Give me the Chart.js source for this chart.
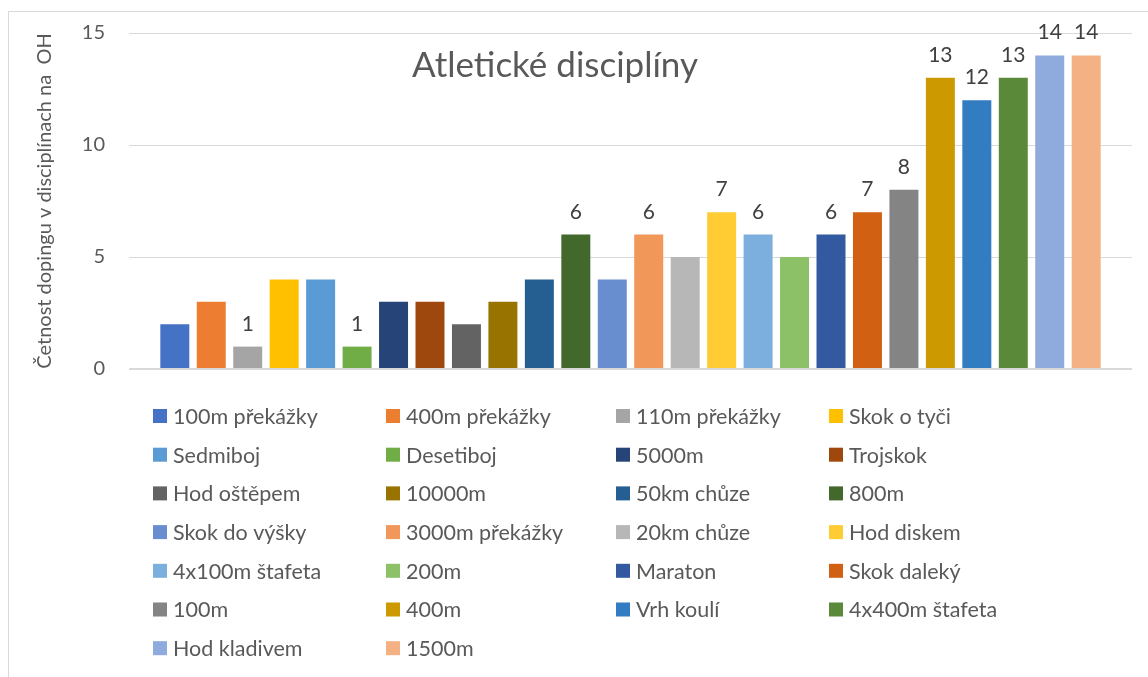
<!DOCTYPE html>
<html>
<head>
<meta charset="utf-8">
<title>Atletické disciplíny</title>
<script src="https://cdn.jsdelivr.net/npm/chart.js@4.4.1/dist/chart.umd.min.js"></script>
<style>
html, body { margin: 0; padding: 0; background: #fff; }
canvas { display: block; }
</style>
</head>
<body>
<canvas id="chart" width="1148" height="677"></canvas>
<script>
// Disciplines, in the order the bars are drawn (one series per discipline)
const disciplines = [
    '100m překážky', '400m překážky', '110m překážky', 'Skok o tyči',
    'Sedmiboj', 'Desetiboj', '5000m', 'Trojskok',
    'Hod oštěpem', '10000m', '50km chůze', '800m',
    'Skok do výšky', '3000m překážky', '20km chůze', 'Hod diskem',
    '4x100m štafeta', '200m', 'Maraton', 'Skok daleký',
    '100m', '400m', 'Vrh koulí', '4x400m štafeta',
    'Hod kladivem', '1500m'
];

// Doping cases per discipline
const dopingCounts = [
    2, 3, 1, 4,
    4, 1, 3, 3,
    2, 3, 4, 6,
    4, 6, 5, 7,
    6, 5, 6, 7,
    8, 13, 12, 13,
    14, 14
];

// Series that carry a value label above the bar
const labelledSeries = [
    '110m překážky', 'Desetiboj', '800m', '3000m překážky', 'Hod diskem',
    '4x100m štafeta', 'Maraton', 'Skok daleký', '100m', '400m',
    'Vrh koulí', '4x400m štafeta', 'Hod kladivem', '1500m'
];

const barColors = [
    '#4472C4', '#ED7D31', '#A5A5A5', '#FFC000',
    '#5B9BD5', '#70AD47', '#264478', '#9E480E',
    '#636363', '#997300', '#255E91', '#43682B',
    '#698ED0', '#F1975A', '#B7B7B7', '#FFCD33',
    '#7CAFDD', '#8CC168', '#335AA1', '#D26012',
    '#848484', '#CC9A00', '#327DC2', '#5A8A39',
    '#8FAADC', '#F4B183'
];

const yTicks = [0, 5, 10, 15];

const FONT = 'Lato';
const TEXT_GREY = '#595959';

// Thin frame around the whole chart
const chartFrame = {
    id: 'chartFrame',
    beforeDraw(chart) {
        const ctx = chart.ctx;
        ctx.save();
        ctx.fillStyle = '#fff';
        ctx.fillRect(0, 0, chart.width, chart.height);
        ctx.strokeStyle = '#d9d9d9';
        ctx.lineWidth = 1;
        ctx.strokeRect(8.5, 11.5, chart.width + 20, chart.height + 20);
        ctx.restore();
    }
};

// Title sits inside the plot area
const plotTitle = {
    id: 'plotTitle',
    afterDraw(chart) {
        const ctx = chart.ctx;
        ctx.save();
        ctx.font = '35px ' + FONT;
        ctx.fillStyle = TEXT_GREY;
        ctx.textAlign = 'center';
        ctx.textBaseline = 'alphabetic';
        ctx.fillText('Atletické disciplíny', 555, 77);
        ctx.restore();
    }
};

// Value labels above the selected bars
const valueLabels = {
    id: 'valueLabels',
    afterDatasetsDraw(chart) {
        const ctx = chart.ctx;
        ctx.save();
        ctx.font = '21px ' + FONT;
        ctx.fillStyle = '#404040';
        ctx.textAlign = 'center';
        ctx.textBaseline = 'alphabetic';
        chart.data.datasets.forEach((ds, i) => {
            if (!labelledSeries.includes(ds.label)) return;
            const bar = chart.getDatasetMeta(i).data[0];
            ctx.fillText(String(ds.data[0]), bar.x, bar.y - 16);
        });
        ctx.restore();
    }
};

// Legend laid out as a four column grid under the plot
const legendGrid = {
    id: 'legendGrid',
    afterDraw(chart) {
        const ctx = chart.ctx;
        const colX = [153, 386, 616, 829];
        const rowTop = 416, rowStep = 38.7, box = 14;
        ctx.save();
        ctx.font = '21.5px ' + FONT;
        ctx.textAlign = 'left';
        ctx.textBaseline = 'middle';
        chart.data.datasets.forEach((ds, i) => {
            const x = colX[i % 4];
            const y = rowTop + Math.floor(i / 4) * rowStep;
            ctx.fillStyle = ds.backgroundColor;
            ctx.fillRect(x, y - box / 2, box, box);
            ctx.fillStyle = TEXT_GREY;
            ctx.fillText(ds.label, x + box + 6, y + 1);
        });
        ctx.restore();
    }
};

function drawChart() {
    const datasets = disciplines.map((name, i) => ({
        label: name,
        data: [dopingCounts[i]],
        backgroundColor: barColors[i],
        borderWidth: 0,
        categoryPercentage: 0.945,
        barPercentage: 0.795
    }));

    new Chart(document.getElementById('chart'), {
        type: 'bar',
        data: { labels: [''], datasets: datasets },
        options: {
            responsive: false,
            animation: false,
            devicePixelRatio: 1,
            layout: { padding: { left: 29, right: 16, top: 33, bottom: 308 } },
            plugins: {
                legend: { display: false },
                tooltip: { enabled: false }
            },
            scales: {
                x: { display: false },
                y: {
                    min: yTicks[0],
                    max: yTicks[yTicks.length - 1],
                    afterBuildTicks: scale => {
                        scale.ticks = yTicks.map(v => ({ value: v }));
                    },
                    // fixed axis width, and no extra room for the end tick labels
                    afterFit: scale => {
                        scale.width = 100;
                        scale.paddingTop = 0;
                        scale.paddingBottom = 0;
                    },
                    border: { display: false },
                    grid: {
                        color: '#d9d9d9',
                        lineWidth: c => (c.tick && c.tick.value === 0 ? 2 : 1),
                        drawTicks: false
                    },
                    ticks: {
                        padding: 24,
                        color: TEXT_GREY,
                        font: { family: FONT, size: 20 }
                    },
                    title: {
                        display: true,
                        text: 'Četnost dopingu v disciplínach na  OH',
                        color: TEXT_GREY,
                        font: { family: FONT, size: 20 }
                    }
                }
            }
        },
        plugins: [chartFrame, valueLabels, plotTitle, legendGrid]
    });
}

document.fonts.load('20px ' + FONT).then(drawChart, drawChart);
</script>
</body>
</html>
